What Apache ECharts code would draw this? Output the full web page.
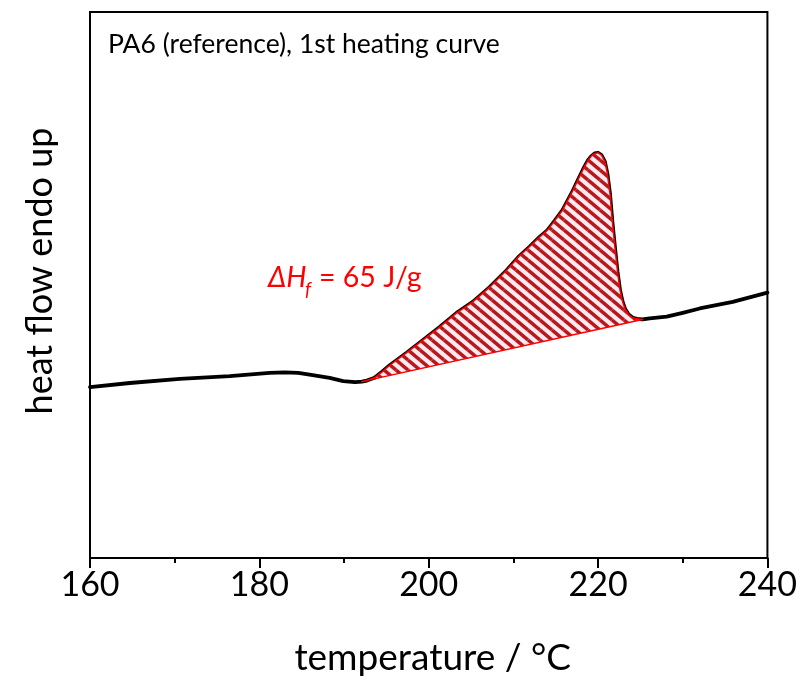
<!DOCTYPE html>
<html><head><meta charset="utf-8">
<script src="https://cdn.jsdelivr.net/npm/echarts@6/dist/echarts.min.js"></script>
<style>html,body{margin:0;padding:0;background:#fff}#c{width:800px;height:682px}</style>
</head><body><div id="c"></div>
<script>
// DSC 1st heating curve of PA6 (arbitrary heat-flow units)
const temperature = [160.0, 164.7, 170.6, 176.5, 181.2, 183.0, 184.6, 186.3, 188.3, 189.9, 191.3, 192.1, 192.7, 193.6,
  194.5, 195.4, 197.4, 199.3, 201.3, 203.3, 205.2, 207.2, 209.2, 210.7, 211.9, 213.1, 214.0, 214.6, 215.8, 216.9, 217.8,
  218.3, 218.8, 219.2, 219.6, 220.0, 220.4, 220.8, 221.1, 221.4, 221.7, 222.0, 222.3, 222.6, 222.9, 223.2, 223.6,
  224.1, 224.6, 225.25, 226.1, 228.1, 230.0, 232.0, 235.9, 240.0];
const heatFlow = [31.3, 32.05, 32.8, 33.3, 33.9, 34.0, 33.9, 33.5, 33.0, 32.4, 32.2, 32.3, 32.5, 33.0,
  34.1, 35.3, 37.6, 39.9, 42.3, 44.9, 46.9, 49.6, 52.7, 55.3, 57.0, 58.8, 60.0, 61.2, 63.7, 66.9, 69.8,
  71.4, 72.8, 73.6, 74.1, 74.2, 73.8, 72.6, 70.4, 66.8, 61.4, 56.8, 52.4, 49.0, 46.9, 45.6, 44.6,
  44.0, 43.8, 43.7, 43.9, 44.2, 44.9, 45.7, 46.9, 48.6];
// integration baseline (start / end of the melting peak)
const baselineT = [192.1, 225.25];
const baselineY = [32.3, 43.7];
const xTicks = [160, 180, 200, 220, 240];
const titleText = 'PA6 (reference), 1st heating curve';
const yTitle = 'heat flow endo up';
const xTitle = 'temperature / °C';
const enthalpyText = '= 65 J/g';

function makeHatch() {
  const w = 12, h = 10;
  const c = document.createElement('canvas');
  c.width = w; c.height = h;
  const ctx = c.getContext('2d');
  ctx.fillStyle = '#fde9ee';
  ctx.fillRect(0, 0, w, h);
  ctx.strokeStyle = '#b5191e';
  ctx.lineWidth = 3.5;
  [[0, 0], [0, -h], [0, h], [-w, 0], [w, 0]].forEach(function (d) {
    ctx.beginPath();
    ctx.moveTo(d[0], d[1]);
    ctx.lineTo(d[0] + w, d[1] + h);
    ctx.stroke();
  });
  return c;
}
const hatch = { image: makeHatch(), repeat: 'repeat' };

const curve = temperature.map(function (t, i) { return [t, heatFlow[i]]; });

const chart = echarts.init(document.getElementById('c'), null, { renderer: 'canvas' });
const FONT = 'Lato';
chart.setOption({
  animation: false,
  backgroundColor: '#fff',
  grid: { left: 90, right: 32, top: 12, bottom: 124, show: true, borderColor: '#000', borderWidth: 2, backgroundColor: 'transparent' },
  xAxis: {
    type: 'value', min: xTicks[0], max: xTicks[xTicks.length - 1], interval: 20,
    name: xTitle, nameLocation: 'middle', nameGap: 82,
    nameTextStyle: { fontFamily: FONT, fontSize: 37, color: '#000', padding: [0, 0, 0, 8] },
    axisLine: { show: true, lineStyle: { color: '#000', width: 2 } },
    axisTick: { show: true, inside: false, length: 10, lineStyle: { color: '#000', width: 2 } },
    minorTick: { show: true, splitNumber: 2, length: 5, lineStyle: { color: '#000', width: 2 } },
    splitLine: { show: false },
    axisLabel: { fontFamily: FONT, fontSize: 34, color: '#000', margin: 10 }
  },
  yAxis: {
    type: 'value', min: 0, max: 100,
    axisLine: { show: true, lineStyle: { color: '#000', width: 2 } },
    axisTick: { show: false }, axisLabel: { show: false }, splitLine: { show: false }
  },
  graphic: [
    { type: 'text', left: 108, top: 31, style: { text: titleText, font: '26.5px ' + FONT, fill: '#000' } },
    { type: 'text', x: 40, y: 271, rotation: Math.PI / 2,
      style: { text: yTitle, font: '36px ' + FONT, fill: '#000', align: 'center', verticalAlign: 'middle' } },
    { type: 'text', left: 268, top: 263, style: { text: 'ΔH', font: 'italic 28.5px ' + FONT, fill: '#ff0000' } },
    { type: 'text', left: 305, top: 280, style: { text: 'f', font: 'italic 19px ' + FONT, fill: '#ff0000' } },
    { type: 'text', left: 319, top: 263, style: { text: enthalpyText, font: '28.5px ' + FONT, fill: '#ff0000' } }
  ],
  series: [
    {
      type: 'line', data: curve, showSymbol: false, smooth: false, z: 2,
      lineStyle: { color: '#000', width: 3.8, join: 'round', cap: 'round' }
    },
    {
      type: 'custom', coordinateSystem: 'cartesian2d', z: 3,
      data: [[baselineT[0], baselineY[0]]],
      renderItem: function (params, api) {
        const pts = [api.coord([baselineT[0], baselineY[0]])];
        for (let i = 0; i < temperature.length; i++) {
          if (temperature[i] > baselineT[0] && temperature[i] < baselineT[1]) {
            pts.push(api.coord([temperature[i], heatFlow[i]]));
          }
        }
        pts.push(api.coord([baselineT[1], baselineY[1]]));
        return {
          type: 'polygon',
          shape: { points: pts },
          style: { fill: hatch, stroke: '#ff0000', lineWidth: 1.5, lineJoin: 'round' }
        };
      }
    }
  ]
});
</script>
</body></html>
